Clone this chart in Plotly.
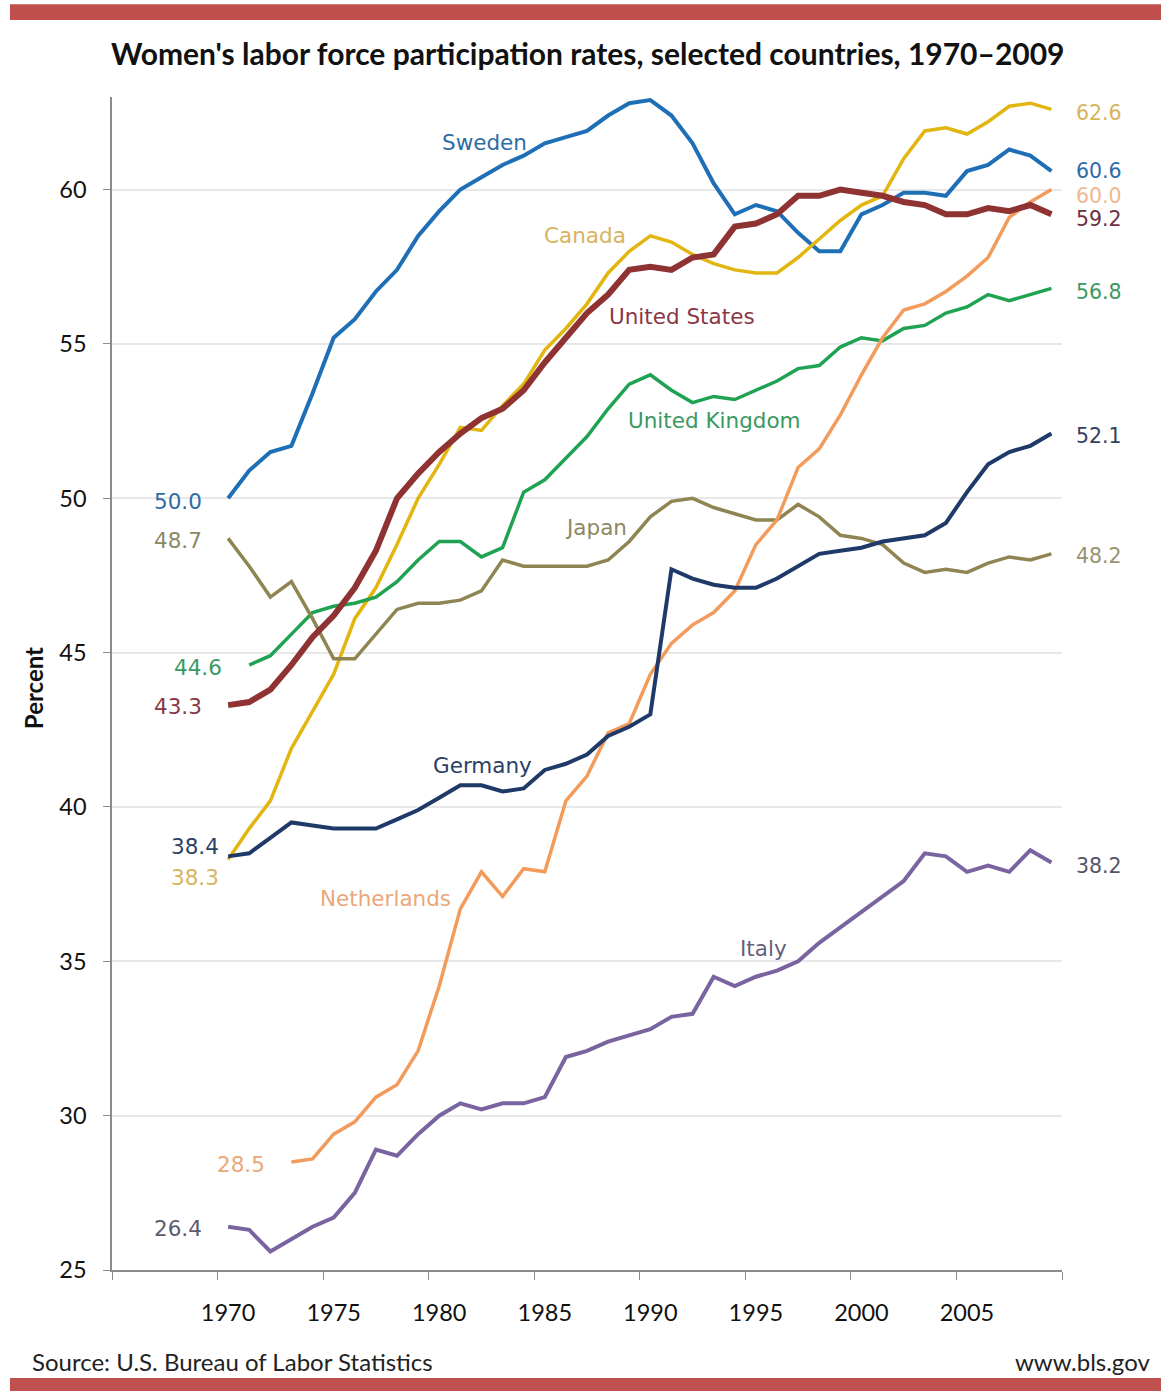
import plotly.graph_objects as go

years = list(range(1970, 2010))

sweden = [50.0, 50.9, 51.5, 51.7, 53.4, 55.2, 55.8, 56.7, 57.4, 58.5,
          59.3, 60.0, 60.4, 60.8, 61.1, 61.5, 61.7, 61.9, 62.4, 62.8,
          62.9, 62.4, 61.5, 60.2, 59.2, 59.5, 59.3, 58.6, 58.0, 58.0,
          59.2, 59.5, 59.9, 59.9, 59.8, 60.6, 60.8, 61.3, 61.1, 60.6]
canada = [38.3, 39.3, 40.2, 41.9, 43.1, 44.3, 46.1, 47.1, 48.5, 50.0,
          51.1, 52.3, 52.2, 53.0, 53.7, 54.8, 55.5, 56.3, 57.3, 58.0,
          58.5, 58.3, 57.9, 57.6, 57.4, 57.3, 57.3, 57.8, 58.4, 59.0,
          59.5, 59.8, 61.0, 61.9, 62.0, 61.8, 62.2, 62.7, 62.8, 62.6]
united_states = [43.3, 43.4, 43.8, 44.6, 45.5, 46.2, 47.1, 48.3, 50.0, 50.8,
                 51.5, 52.1, 52.6, 52.9, 53.5, 54.4, 55.2, 56.0, 56.6, 57.4,
                 57.5, 57.4, 57.8, 57.9, 58.8, 58.9, 59.2, 59.8, 59.8, 60.0,
                 59.9, 59.8, 59.6, 59.5, 59.2, 59.2, 59.4, 59.3, 59.5, 59.2]
united_kingdom = [None, 44.6, 44.9, 45.6, 46.3, 46.5, 46.6, 46.8, 47.3, 48.0,
                  48.6, 48.6, 48.1, 48.4, 50.2, 50.6, 51.3, 52.0, 52.9, 53.7,
                  54.0, 53.5, 53.1, 53.3, 53.2, 53.5, 53.8, 54.2, 54.3, 54.9,
                  55.2, 55.1, 55.5, 55.6, 56.0, 56.2, 56.6, 56.4, 56.6, 56.8]
japan = [48.7, 47.8, 46.8, 47.3, 46.1, 44.8, 44.8, 45.6, 46.4, 46.6,
         46.6, 46.7, 47.0, 48.0, 47.8, 47.8, 47.8, 47.8, 48.0, 48.6,
         49.4, 49.9, 50.0, 49.7, 49.5, 49.3, 49.3, 49.8, 49.4, 48.8,
         48.7, 48.5, 47.9, 47.6, 47.7, 47.6, 47.9, 48.1, 48.0, 48.2]
germany = [38.4, 38.5, 39.0, 39.5, 39.4, 39.3, 39.3, 39.3, 39.6, 39.9,
           40.3, 40.7, 40.7, 40.5, 40.6, 41.2, 41.4, 41.7, 42.3, 42.6,
           43.0, 47.7, 47.4, 47.2, 47.1, 47.1, 47.4, 47.8, 48.2, 48.3,
           48.4, 48.6, 48.7, 48.8, 49.2, 50.2, 51.1, 51.5, 51.7, 52.1]
netherlands = [None, None, None, 28.5, 28.6, 29.4, 29.8, 30.6, 31.0, 32.1,
               34.2, 36.7, 37.9, 37.1, 38.0, 37.9, 40.2, 41.0, 42.4, 42.7,
               44.3, 45.3, 45.9, 46.3, 47.0, 48.5, 49.3, 51.0, 51.6, 52.7,
               54.0, 55.2, 56.1, 56.3, 56.7, 57.2, 57.8, 59.1, 59.6, 60.0]
italy = [26.4, 26.3, 25.6, 26.0, 26.4, 26.7, 27.5, 28.9, 28.7, 29.4,
         30.0, 30.4, 30.2, 30.4, 30.4, 30.6, 31.9, 32.1, 32.4, 32.6,
         32.8, 33.2, 33.3, 34.5, 34.2, 34.5, 34.7, 35.0, 35.6, 36.1,
         36.6, 37.1, 37.6, 38.5, 38.4, 37.9, 38.1, 37.9, 38.6, 38.2]

tick_years = [1970, 1975, 1980, 1985, 1990, 1995, 2000, 2005]
y_ticks = [25, 30, 35, 40, 45, 50, 55, 60]

series = [
    ("Sweden", sweden, "#1F6FB6", 4),
    ("Canada", canada, "#E2B50F", 3.5),
    ("United Kingdom", united_kingdom, "#1FA352", 3.5),
    ("Japan", japan, "#8E8553", 3.5),
    ("Netherlands", netherlands, "#F39B5B", 3.5),
    ("Germany", germany, "#1F3A68", 4),
    ("Italy", italy, "#7A649F", 4),
    ("United States", united_states, "#8E3232", 6),
]

fig = go.Figure()
for name, vals, color, w in series:
    fig.add_trace(go.Scatter(x=years, y=vals, mode="lines", name=name,
                             line=dict(color=color, width=w),
                             connectgaps=False, showlegend=False))

LBL = "DejaVu Sans"
CAL = "Lato"
LSZ = 21.5

# series name labels
name_labels = [
    ("Sweden", 1982.13, 61.54, "#2E6CA6"),
    ("Canada", 1986.92, 58.50, "#D6B45E"),
    ("United States", 1991.50, 55.90, "#8A3645"),
    ("United Kingdom", 1993.03, 52.53, "#3A9960"),
    ("Japan", 1987.44, 49.04, "#8E8862"),
    ("Germany", 1982.04, 41.33, "#2B3F66"),
    ("Netherlands", 1977.44, 37.05, "#EAA77A"),
    ("Italy", 1995.36, 35.43, "#66607A"),
]
for t, x, y, c in name_labels:
    fig.add_annotation(x=x, y=y, xref="x", yref="y", text=t, showarrow=False,
                       font=dict(family=LBL, size=LSZ, color=c),
                       xanchor="center", yanchor="middle")

start_labels = [
    ("50.0", 1968.85, 49.88, "#2E6CA6"),
    ("48.7", 1968.85, 48.62, "#8E8862"),
    ("44.6", 1969.80, 44.53, "#3A9960"),
    ("43.3", 1968.85, 43.24, "#8A3645"),
    ("38.4", 1969.67, 38.73, "#2B3F66"),
    ("38.3", 1969.67, 37.73, "#D6B45E"),
    ("28.5", 1971.86, 28.43, "#EAA77A"),
    ("26.4", 1968.85, 26.36, "#5E5A70"),
]
for t, x, y, c in start_labels:
    fig.add_annotation(x=x, y=y, xref="x", yref="y", text=t, showarrow=False,
                       font=dict(family=LBL, size=LSZ, color=c),
                       xanchor="right", yanchor="middle")

end_labels = [
    ("62.6", 62.48, "#D6B45E"),
    ("60.6", 60.60, "#2E6CA6"),
    ("60.0", 59.80, "#EFB892"),
    ("59.2", 59.05, "#6E3040"),
    ("56.8", 56.68, "#3A9960"),
    ("52.1", 52.02, "#333F5E"),
    ("48.2", 48.13, "#9A9270"),
    ("38.2", 38.09, "#55556A"),
]
for t, y, c in end_labels:
    fig.add_annotation(x=1.0126, y=y, xref="paper", yref="y", text=t, showarrow=False,
                       font=dict(family=LBL, size=20.5, color=c),
                       xanchor="left", yanchor="middle")

# title, source, axis title
fig.add_annotation(x=0.501, y=1.0375, xref="paper", yref="paper",
                   text="<b>Women's labor force participation rates, selected countries, 1970\u20132009</b>",
                   showarrow=False, font=dict(family=CAL, size=30, color="#111111"),
                   xanchor="center", yanchor="middle")
fig.add_annotation(x=-0.0863, y=-0.0784, xref="paper", yref="paper",
                   text="Source: U.S. Bureau of Labor Statistics", showarrow=False,
                   font=dict(family=CAL, size=24, color="#222222"),
                   xanchor="left", yanchor="middle")
fig.add_annotation(x=1.0947, y=-0.0784, xref="paper", yref="paper",
                   text="www.bls.gov", showarrow=False,
                   font=dict(family=CAL, size=24, color="#222222"),
                   xanchor="right", yanchor="middle")
fig.add_annotation(x=-0.0832, y=0.496, xref="paper", yref="paper",
                   text="<b>Percent</b>", textangle=-90, showarrow=False,
                   font=dict(family=CAL, size=24, color="#111111"),
                   xanchor="center", yanchor="middle")

# red bars
RED = "#C0504D"
fig.add_shape(type="rect", xref="paper", yref="paper",
              x0=-0.1074, x1=1.11, y0=1.0656, y1=1.0790,
              fillcolor=RED, line=dict(width=0), layer="above")
fig.add_shape(type="rect", xref="paper", yref="paper",
              x0=-0.1074, x1=1.11, y0=-0.1040, y1=-0.0921,
              fillcolor=RED, line=dict(width=0), layer="above")

AX = "#8C8C8C"
fig.update_xaxes(range=[1964.5, 2009.5], tickmode="array", tickvals=tick_years,
                 ticktext=[str(y) for y in tick_years],
                 ticks="outside", ticklen=21, tickcolor="rgba(0,0,0,0)",
                 tickfont=dict(family=CAL, size=23.5, color="#111111"),
                 showline=True, linecolor=AX, linewidth=1.5,
                 showgrid=False, zeroline=False,
                 minor=dict(tickmode="linear", tick0=1964.5, dtick=5,
                            ticks="outside", ticklen=8, tickcolor=AX,
                            tickwidth=1.2, showgrid=False))
fig.update_yaxes(range=[25, 63], tickmode="array", tickvals=y_ticks,
                 ticks="outside", ticklen=7, tickcolor=AX, tickwidth=1.2,
                 tickfont=dict(family=CAL, size=23.5, color="#111111"),
                 ticklabelstandoff=12,
                 showline=True, linecolor=AX, linewidth=1.5,
                 showgrid=True, gridcolor="#E8E8E8", gridwidth=1.5,
                 zeroline=False)

fig.update_layout(width=1161, height=1391,
                  margin=dict(l=112, r=99, t=97, b=121),
                  plot_bgcolor="white", paper_bgcolor="white",
                  showlegend=False)

fig.write_html("out.html", config={"displayModeBar": False},
               post_script="document.body.style.margin='0px';document.body.style.padding='0px';")
